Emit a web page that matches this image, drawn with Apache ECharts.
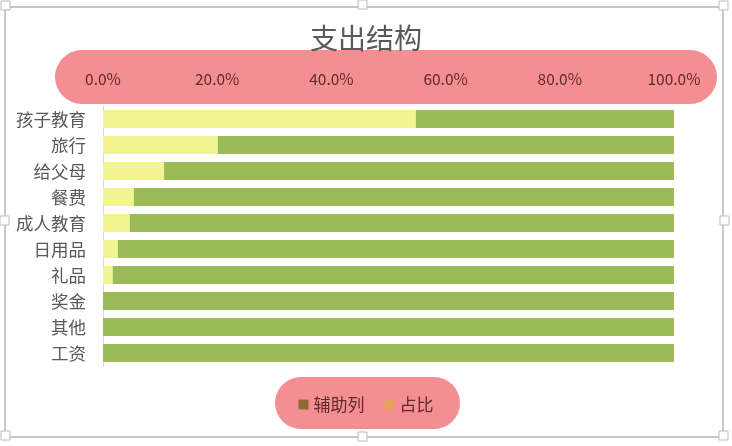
<!DOCTYPE html>
<html>
<head>
<meta charset="utf-8">
<script src="https://cdn.jsdelivr.net/npm/echarts@6/dist/echarts.min.js"></script>
<style>
  html, body { margin: 0; padding: 0; background: #fff; }
  #main { width: 732px; height: 446px; }
</style>
</head>
<body>
<div id="main"></div>
<script>
// 类别（从上到下）
const categories = ['孩子教育', '旅行', '给父母', '餐费', '成人教育', '日用品', '礼品', '奖金', '其他', '工资']
// 占比（%）
const shareData = [54.8, 20.1, 10.7, 5.4, 4.7, 2.6, 1.7, 0, 0, 0]
// 辅助列（%）
const helperData = [45.2, 79.9, 89.3, 94.6, 95.3, 97.4, 98.3, 100, 100, 100]
const tickLabels = ['0.0%', '20.0%', '40.0%', '60.0%', '80.0%', '100.0%']

;(function () {
  let myChart = echarts.init(document.getElementById('main'))
  const font = '"Noto Sans CJK SC", "Noto Sans", sans-serif'
  const pink = '#F58E92'
  const darkText = '#5E2B2B'

  // 选中框的小方块
  const handles = [
    [1, 1], [358, 0], [719, 1],
    [0, 216], [720, 216],
    [1, 431], [358, 432], [719, 431],
  ].map(function (p) {
    return {
      type: 'rect',
      shape: { x: p[0], y: p[1], width: 9, height: 9 },
      style: { fill: '#fff', stroke: '#bbb', lineWidth: 1 },
      z: 10,
    }
  })

  let options = {
    animation: false,
    title: {
      text: '支出结构',
      left: 'center',
      top: 19,
      textStyle: {
        color: '#595959',
        fontSize: 28,
        fontWeight: 'normal',
        fontFamily: font,
      },
    },
    graphic: [
      {
        type: 'rect',
        shape: { x: 5, y: 7, width: 718, height: 430 },
        style: { fill: 'none', stroke: '#c8c8c8', lineWidth: 2 },
        z: -10,
      },
      {
        type: 'rect',
        shape: { x: 55, y: 50, width: 662, height: 54, r: 27 },
        style: { fill: pink },
        z: -5,
      },
      {
        type: 'rect',
        shape: { x: 275, y: 377, width: 185, height: 52, r: 26 },
        style: { fill: pink },
        z: -5,
      },
    ].concat(handles),
    legend: {
      bottom: 28,
      left: 'center',
      icon: 'rect',
      itemWidth: 10,
      itemHeight: 10,
      itemGap: 20,
      textStyle: {
        color: darkText,
        fontSize: 17,
        fontFamily: font,
      },
      data: [
        { name: '辅助列', itemStyle: { color: '#8E6A32' } },
        { name: '占比', itemStyle: { color: '#E9A05A' } },
      ],
    },
    grid: {
      left: 103,
      right: 58,
      top: 106,
      bottom: 80,
    },
    xAxis: {
      type: 'value',
      position: 'top',
      min: 0,
      max: 100,
      interval: 20,
      axisLine: { show: false },
      axisTick: { show: false },
      splitLine: { show: false },
      axisLabel: {
        margin: 19,
        color: darkText,
        fontSize: 15.5,
        fontFamily: font,
        formatter: function (v) {
          return tickLabels[v / 20]
        },
      },
    },
    yAxis: {
      type: 'category',
      data: categories,
      inverse: true,
      axisTick: { show: false },
      axisLine: {
        lineStyle: { color: '#d9d9d9', width: 1 },
      },
      axisLabel: {
        margin: 17,
        color: '#595959',
        fontSize: 17.5,
        fontFamily: font,
      },
    },
    series: [
      {
        name: '占比',
        type: 'bar',
        stack: 'total',
        barWidth: 18,
        itemStyle: { color: '#F1F592' },
        data: shareData,
      },
      {
        name: '辅助列',
        type: 'bar',
        stack: 'total',
        barWidth: 18,
        itemStyle: { color: '#9BBB59' },
        data: helperData,
      },
    ],
  }
  myChart.setOption(options)
  window.addEventListener('resize', () => {
    myChart.resize()
  })
})()
</script>
</body>
</html>
